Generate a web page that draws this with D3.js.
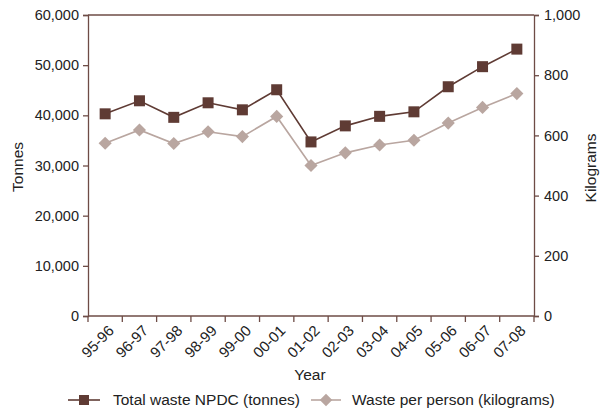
<!DOCTYPE html>
<html>
<head>
<meta charset="utf-8">
<script src="https://cdn.jsdelivr.net/npm/d3@7"></script>
<style>
  body { margin: 0; background: #fff; }
  svg { display: block; font-family: "Liberation Sans", Arial, sans-serif; }
</style>
</head>
<body>
<svg id="chart" width="601" height="409"></svg>
<script>
// Financial years
const years = ["95-96","96-97","97-98","98-99","99-00","00-01","01-02","02-03","03-04","04-05","05-06","06-07","07-08"];
// Total waste NPDC, tonnes (left axis)
const totalTonnes = [40300, 42900, 39600, 42500, 41100, 45100, 34700, 37900, 39800, 40700, 45700, 49700, 53200];
// Waste per person, kilograms (right axis)
const perPersonKg = [574, 618, 573, 612, 596, 663, 500, 542, 568, 584, 641, 693, 739];
const leftTicks = [0, 10000, 20000, 30000, 40000, 50000, 60000];
const rightTicks = [0, 200, 400, 600, 800, 1000];

const dark = "#5f3b34";
const light = "#b9a6a0";
const axisColor = "#6e4c46";
const textColor = "#222";

const svg = d3.select("#chart");
const m = { left: 88, right: 534, top: 15, bottom: 316 };

const x = d3.scaleBand().domain(years).range([m.left, m.right]);
const yL = d3.scaleLinear().domain([0, 60000]).range([m.bottom, m.top]);
const yR = d3.scaleLinear().domain([0, 1000]).range([m.bottom, m.top]);
const cx = d => x(d) + x.bandwidth() / 2;

// Top border of the plot area
svg.append("line").attr("x1", m.left).attr("x2", m.right)
  .attr("y1", m.top).attr("y2", m.top)
  .attr("stroke", axisColor).attr("stroke-width", 1.3);

// Left axis
const gL = svg.append("g").attr("transform", `translate(${m.left},0)`)
  .call(d3.axisLeft(yL).tickValues(leftTicks).tickSize(5).tickPadding(4).tickFormat(d3.format(",")));
// Right axis
const gR = svg.append("g").attr("transform", `translate(${m.right},0)`)
  .call(d3.axisRight(yR).tickValues(rightTicks).tickSize(5).tickPadding(5).tickFormat(d3.format(",")));
// Bottom axis: ticks on the band boundaries
const bounds = years.map(d => x(d)).concat([m.right]);
const gB = svg.append("g").attr("transform", `translate(0,${m.bottom})`);
gB.append("line").attr("x1", m.left).attr("x2", m.right).attr("stroke", axisColor).attr("stroke-width", 1.3);
gB.selectAll("line.tk").data(bounds).join("line").attr("class", "tk")
  .attr("x1", d => d).attr("x2", d => d).attr("y1", 0).attr("y2", 6)
  .attr("stroke", axisColor).attr("stroke-width", 1.3);
gB.selectAll("text").data(years).join("text")
  .attr("transform", d => `translate(${cx(d) + 6},${12}) rotate(-45)`)
  .attr("text-anchor", "end").attr("dy", "0.35em")
  .attr("font-size", 15).attr("fill", textColor).text(d => d);

[gL, gR].forEach(g => {
  g.select(".domain").attr("stroke", axisColor).attr("stroke-width", 1.3);
  g.selectAll(".tick line").attr("stroke", axisColor).attr("stroke-width", 1.3);
  g.selectAll(".tick text").attr("font-size", 14.5).attr("fill", textColor)
    .attr("font-family", "'Liberation Sans', Arial, sans-serif");
});

// Axis titles
svg.append("text").attr("transform", "translate(23,167) rotate(-90)")
  .attr("text-anchor", "middle").attr("font-size", 15.5).attr("fill", textColor).text("Tonnes");
svg.append("text").attr("transform", "translate(596,168) rotate(-90)")
  .attr("text-anchor", "middle").attr("font-size", 15.5).attr("fill", textColor).text("Kilograms");
svg.append("text").attr("x", 310).attr("y", 380)
  .attr("text-anchor", "middle").attr("font-size", 15.5).attr("fill", textColor).text("Year");

// Waste per person line + diamonds
svg.append("path").datum(perPersonKg)
  .attr("fill", "none").attr("stroke", light).attr("stroke-width", 1.6)
  .attr("d", d3.line().x((d, i) => cx(years[i])).y(d => yR(d)));
svg.selectAll("path.dia").data(perPersonKg).join("path").attr("class", "dia")
  .attr("d", d3.symbol(d3.symbolDiamond2, 110))
  .attr("transform", (d, i) => `translate(${cx(years[i])},${yR(d)})`)
  .attr("fill", light);

// Total waste line + squares
svg.append("path").datum(totalTonnes)
  .attr("fill", "none").attr("stroke", dark).attr("stroke-width", 1.6)
  .attr("d", d3.line().x((d, i) => cx(years[i])).y(d => yL(d)));
svg.selectAll("rect.sq").data(totalTonnes).join("rect").attr("class", "sq")
  .attr("x", (d, i) => cx(years[i]) - 5.5).attr("y", d => yL(d) - 5.5)
  .attr("width", 11).attr("height", 11).attr("fill", dark);

// Legend
const lg = svg.append("g");
lg.append("line").attr("x1", 68).attr("x2", 100).attr("y1", 400).attr("y2", 400)
  .attr("stroke", dark).attr("stroke-width", 1.6);
lg.append("rect").attr("x", 79).attr("y", 395).attr("width", 10).attr("height", 10).attr("fill", dark);
lg.append("text").attr("x", 113).attr("y", 405).attr("font-size", 15.5).attr("fill", textColor)
  .text("Total waste NPDC (tonnes)");
lg.append("line").attr("x1", 311).attr("x2", 341).attr("y1", 400).attr("y2", 400)
  .attr("stroke", light).attr("stroke-width", 1.6);
lg.append("path").attr("d", d3.symbol(d3.symbolDiamond2, 100))
  .attr("transform", "translate(326,400)").attr("fill", light);
lg.append("text").attr("x", 352).attr("y", 405).attr("font-size", 15.5).attr("fill", textColor)
  .text("Waste per person (kilograms)");
</script>
</body>
</html>
